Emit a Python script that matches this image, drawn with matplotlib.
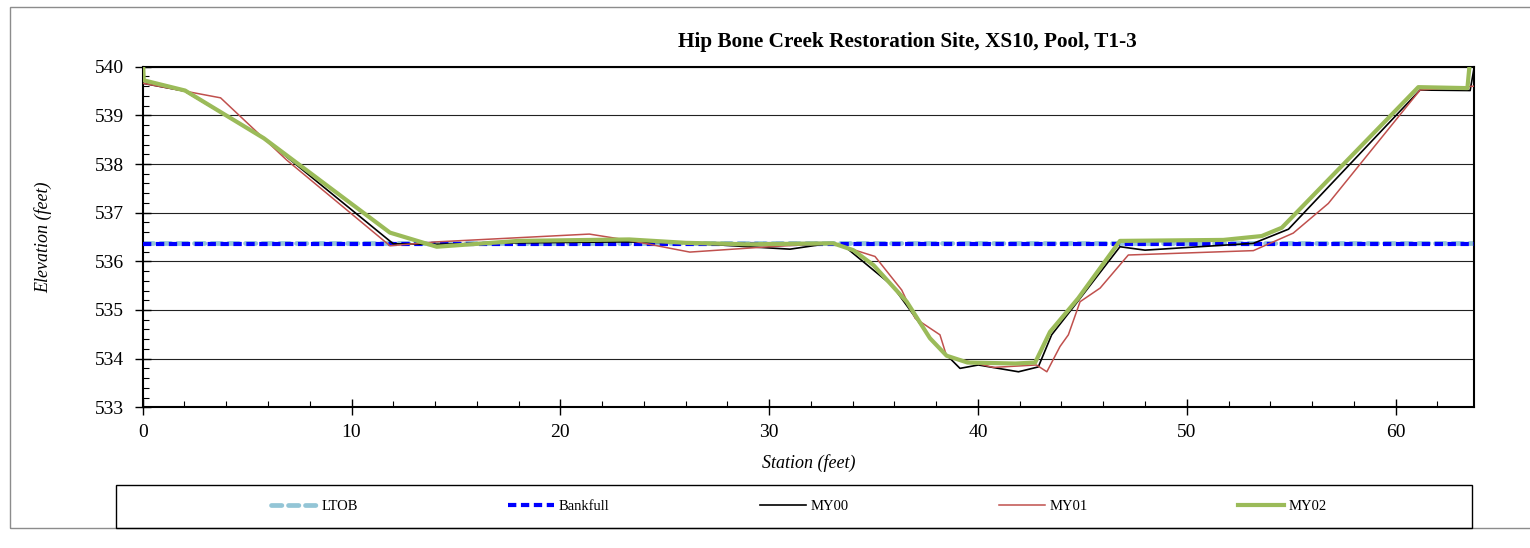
import matplotlib
matplotlib.use("Agg")
import matplotlib.pyplot as plt
from matplotlib.patches import Rectangle
from matplotlib.ticker import MultipleLocator

plt.rcParams["font.family"] = ["Liberation Serif", "DejaVu Serif"]

# Cross-section survey data: station (ft) vs elevation (ft)
title = "Hip Bone Creek Restoration Site, XS10, Pool, T1-3"

ltob_x = [0.0, 63.77]
ltob_y = [536.37, 536.37]

bankfull_x = [0.0, 63.77]
bankfull_y = [536.36, 536.36]

my00_x = [0.0, 2.0, 5.8, 12.0, 14.0, 18.0, 23.0, 26.0, 29.0, 31.0, 33.07, 33.72,
          35.9, 37.79, 39.14, 40.02, 41.94, 42.89, 43.53, 44.57, 46.8, 48.0,
          53.19, 54.87, 61.17, 63.57, 63.77]
my00_y = [539.66, 539.50, 538.53, 536.36, 536.35, 536.38, 536.40, 536.38, 536.30,
          536.25, 536.38, 536.27, 535.50, 534.38, 533.80, 533.87, 533.73, 533.83,
          534.49, 535.06, 536.30, 536.23, 536.37, 536.66, 539.52, 539.51, 540.00]

my01_x = [0.0, 2.0, 3.73, 6.9, 11.84, 14.08, 21.39, 23.3, 26.2, 30.0, 33.07, 35.07,
          36.35, 36.99, 38.18, 38.5, 40.74, 42.8, 43.3, 43.93, 44.33, 44.89, 45.85,
          47.2, 53.19, 55.1, 56.78, 61.17, 63.77]
my01_y = [539.66, 539.50, 539.36, 538.08, 536.32, 536.40, 536.56, 536.43, 536.19,
          536.30, 536.37, 536.10, 535.41, 534.83, 534.49, 534.05, 533.82, 533.87,
          533.73, 534.25, 534.49, 535.17, 535.45, 536.13, 536.22, 536.58, 537.19,
          539.52, 539.60]

my02_x = [0.0, 0.05, 2.03, 5.8, 11.84, 14.08, 18.0, 23.3, 26.0, 29.0, 33.07, 34.03,
          35.0, 36.59, 37.7, 38.5, 39.5, 41.8, 42.74, 43.45, 44.8, 46.8, 51.75,
          53.59, 54.55, 61.09, 63.44, 63.6]
my02_y = [540.30, 539.72, 539.51, 538.53, 536.59, 536.30, 536.42, 536.45, 536.38,
          536.35, 536.37, 536.23, 535.92, 535.17, 534.42, 534.06, 533.92, 533.90,
          533.92, 534.55, 535.24, 536.42, 536.44, 536.52, 536.69, 539.58, 539.56,
          540.30]

W, H = 1530, 548
fig = plt.figure(figsize=(W / 100, H / 100), dpi=100)

# outer chart border
fig.patches.append(Rectangle((10 / W, 1 - 528 / H), 1525 / W, 521 / H,
                             transform=fig.transFigure, fill=False,
                             ec="#8c8c8c", lw=1.0, zorder=0))

ax_l, ax_r, ax_t, ax_b = 142.7, 1474.3, 66.7, 407.3
ax = fig.add_axes([ax_l / W, 1 - ax_b / H, (ax_r - ax_l) / W, (ax_b - ax_t) / H])

ax.plot(ltob_x, ltob_y, color="#93C5D6", lw=3.4, dashes=(2.2, 1.4),
        dash_capstyle="round", label="LTOB", zorder=2)
ax.plot(bankfull_x, bankfull_y, color="#0000FF", lw=3.0, dashes=(2.0, 1.1),
        label="Bankfull", zorder=3)
ax.plot(my00_x, my00_y, color="black", lw=1.2, label="MY00", zorder=4)
ax.plot(my01_x, my01_y, color="#C0504D", lw=1.1, label="MY01", zorder=5)
ax.plot(my02_x, my02_y, color="#9BBB59", lw=3.0, label="MY02", zorder=6,
        solid_joinstyle="round")

ax.set_xlim(0, 63.77)
ax.set_ylim(533, 540)
ax.xaxis.set_major_locator(MultipleLocator(10))
ax.xaxis.set_minor_locator(MultipleLocator(2))
ax.yaxis.set_major_locator(MultipleLocator(1))
ax.yaxis.set_minor_locator(MultipleLocator(0.2))

ax.grid(axis="y", which="major", color="#222222", lw=0.8)
ax.set_axisbelow(True)
for s in ax.spines.values():
    s.set_linewidth(1.5)
    s.set_color("black")

ax.tick_params(which="major", direction="inout", length=11, width=1.0,
               labelsize=14)
ax.tick_params(which="minor", direction="in", length=4, width=0.8)
ax.tick_params(axis="y", which="major", pad=8)
ax.tick_params(axis="x", which="major", pad=6.5)

ax.set_ylabel("Elevation (feet)", fontsize=13, style="italic")
ax.set_xlabel("Station (feet)", fontsize=13, style="italic")
ax.yaxis.set_label_coords((43 - ax_l) / (ax_r - ax_l), 0.5)
ax.yaxis.label.set_va("center")
ax.xaxis.set_label_coords(0.5, (ax_b - 463) / (ax_b - ax_t))
ax.xaxis.label.set_va("center")

fig.text(907 / W, 1 - 42 / H, title, ha="center", va="center",
         fontsize=15.3, fontweight="bold")

# legend frame and entries
fig.patches.append(Rectangle((116 / W, 1 - 528 / H), (1472 - 116) / W, 43 / H,
                             transform=fig.transFigure, fill=False,
                             ec="black", lw=1.0, zorder=1))
handles, labels = ax.get_legend_handles_labels()
fig.legend(handles, labels, loc="center", bbox_to_anchor=(799 / W, 1 - 506 / H),
           ncol=5, frameon=False, fontsize=10.5, handlelength=3.15,
           handletextpad=0.33, columnspacing=10.3)

fig.savefig("out.png", dpi=100)
